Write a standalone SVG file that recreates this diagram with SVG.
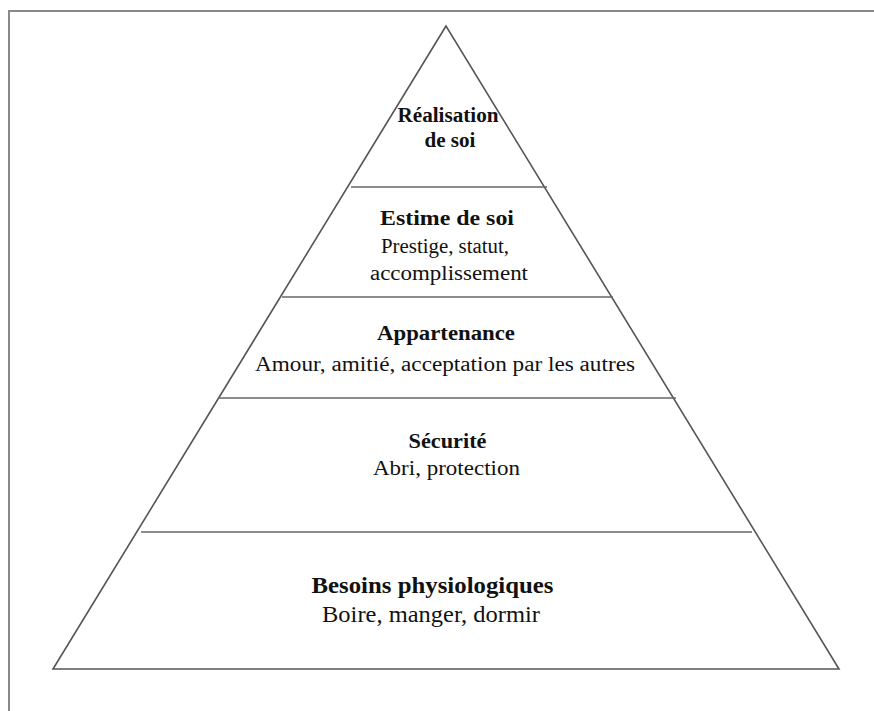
<svg xmlns="http://www.w3.org/2000/svg" width="874" height="711" viewBox="0 0 874 711">
  <style>
    .frame { fill: none; stroke: #8a8a84; stroke-width: 2; }
    .pyr { fill: #ffffff; stroke: #555555; stroke-width: 1.6; stroke-linejoin: miter; }
    .tier { stroke: #666666; stroke-width: 1.6; }
    text { font-family: "Times New Roman", "Liberation Serif", serif; fill: #111111; text-anchor: middle; }
    .t { font-weight: bold; font-size: 20.5px; }
    .s { font-size: 20.5px; }
    .tb { font-weight: bold; font-size: 22.5px; }
    .sb { font-size: 22.5px; }
  </style>
  <rect width="874" height="711" fill="#ffffff"/>
  <!-- page frame: top and left edges -->
  <polyline class="frame" points="9,711 9,11 874,11"/>

  <!-- pyramid outline -->
  <polygon id="pyramid" class="pyr" points="446,26 53,669 839,669"/>

  <!-- tier dividers -->
  <g id="dividers">
    <line class="tier" x1="351" y1="187" x2="547" y2="187"/>
    <line class="tier" x1="282" y1="297" x2="613" y2="297"/>
    <line class="tier" x1="218" y1="398" x2="676" y2="398"/>
    <line class="tier" x1="141" y1="532" x2="752" y2="532"/>
  </g>

  <g id="tier-realisation">
    <text class="t" x="448" y="122" textLength="101" lengthAdjust="spacingAndGlyphs">Réalisation</text>
    <text class="t" x="450" y="147" textLength="51" lengthAdjust="spacingAndGlyphs">de soi</text>
  </g>

  <g id="tier-estime">
    <text class="t" x="447" y="225" textLength="134" lengthAdjust="spacingAndGlyphs">Estime de soi</text>
    <text class="s" x="445" y="253" textLength="128" lengthAdjust="spacingAndGlyphs">Prestige, statut,</text>
    <text class="s" x="449" y="280" textLength="158" lengthAdjust="spacingAndGlyphs">accomplissement</text>
  </g>

  <g id="tier-appartenance">
    <text class="t" x="446" y="340" textLength="138" lengthAdjust="spacingAndGlyphs">Appartenance</text>
    <text class="s" x="445" y="371" textLength="380" lengthAdjust="spacingAndGlyphs">Amour, amitié, acceptation par les autres</text>
  </g>

  <g id="tier-securite">
    <text class="t" x="447.5" y="448" textLength="78" lengthAdjust="spacingAndGlyphs">Sécurité</text>
    <text class="s" x="446.5" y="475" textLength="147" lengthAdjust="spacingAndGlyphs">Abri, protection</text>
  </g>

  <g id="tier-besoins">
    <text class="tb" x="432.5" y="593" textLength="242" lengthAdjust="spacingAndGlyphs">Besoins physiologiques</text>
    <text class="sb" x="431" y="621.5" textLength="218" lengthAdjust="spacingAndGlyphs">Boire, manger, dormir</text>
  </g>
</svg>
